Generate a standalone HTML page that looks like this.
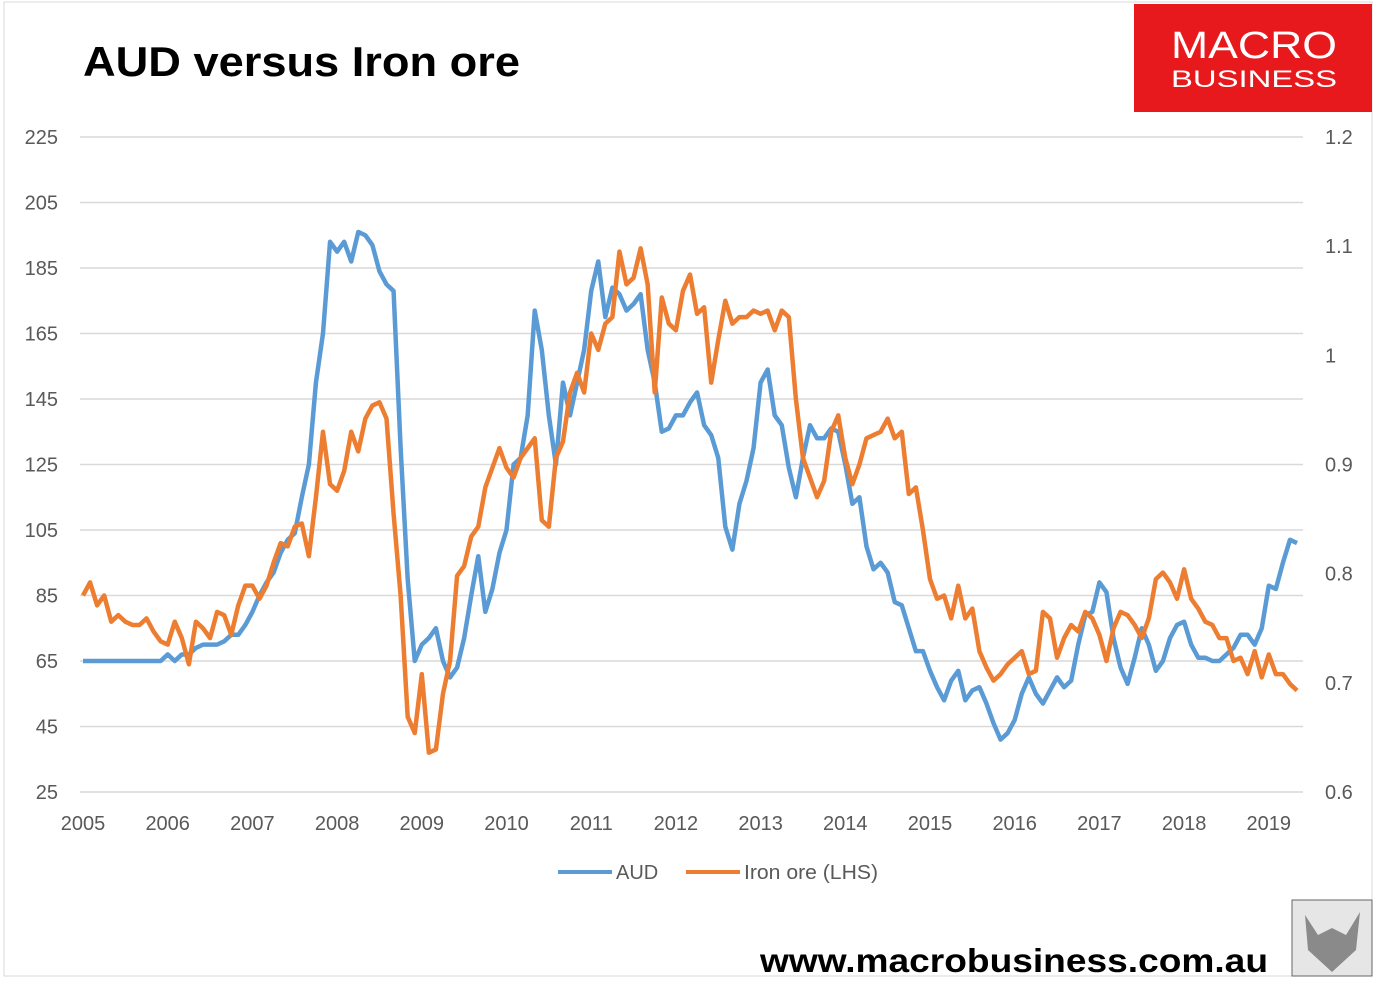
<!DOCTYPE html>
<html><head><meta charset="utf-8"><style>
body{margin:0;background:#fff;width:1374px;height:981px;overflow:hidden;font-family:"Liberation Sans",sans-serif}
</style></head><body>
<svg width="1374" height="981" viewBox="0 0 1374 981">
<rect x="4" y="2" width="1368" height="974" fill="none" stroke="#d9d9d9"/>
<text x="83" y="76" font-size="42" font-weight="bold" fill="#000" textLength="437" lengthAdjust="spacingAndGlyphs">AUD versus Iron ore</text>
<g>
<rect x="1134" y="4" width="238" height="108" fill="#e8191c"/>
<text x="1254" y="58" font-size="38" fill="#fff" text-anchor="middle" textLength="166" lengthAdjust="spacingAndGlyphs">MACRO</text>
<text x="1254" y="87" font-size="24" fill="#fff" text-anchor="middle" textLength="166" lengthAdjust="spacingAndGlyphs">BUSINESS</text>
</g>
<g id="grid"></g><g id="ylabels"></g><g id="xlabels"></g><g id="lines"></g>
<g>
<line x1="558" y1="872" x2="612" y2="872" stroke="#5b9bd5" stroke-width="4"/>
<text x="616" y="879" font-size="20" fill="#595959">AUD</text>
<line x1="686" y1="872" x2="740" y2="872" stroke="#ed7d31" stroke-width="4"/>
<text x="744" y="879" font-size="20" fill="#595959" textLength="134" lengthAdjust="spacingAndGlyphs">Iron ore (LHS)</text>
</g>
<text x="760" y="972" font-size="33" font-weight="bold" fill="#000" textLength="508" lengthAdjust="spacingAndGlyphs">www.macrobusiness.com.au</text>
<g>
<rect x="1292" y="900" width="80" height="76" fill="#e6e6e6" stroke="#666"/>
<path d="M1305 915 L1318 935 L1332 928 L1346 935 L1360 912 L1356 950 L1332 972 L1308 950 Z" fill="#8a8a8a"/>
</g>
</svg>
<script>
const years=["2005","2006","2007","2008","2009","2010","2011","2012","2013","2014","2015","2016","2017","2018","2019"];
const leftTicks=[25,45,65,85,105,125,145,165,185,205,225];
const rightTicks=["0.6","0.7","0.8","0.9","1","1.1","1.2"];
const ironOre=[85,89,82,85,77,79,77,76,76,78,74,71,
70,77,72,64,77,75,72,80,79,73,82,88,
88,84,88,95,101,100,106,107,97,115,135,119,
117,123,135,129,139,143,144,139,110,85,48,43,
61,37,38,55,65,91,94,103,106,118,124,130,
124,121,127,130,133,108,106,127,132,147,153,147,
165,160,168,170,190,180,182,191,180,147,176,168,
166,178,183,171,173,150,163,175,168,170,170,172,
171,172,166,172,170,145,127,121,115,120,135,140,
127,119,125,133,134,135,139,133,135,116,118,105,
90,84,85,78,88,78,81,68,63,59,61,64,
66,68,61,62,80,78,66,72,76,74,80,78,
73,65,75,80,79,76,72,78,90,92,89,84,
93,84,81,77,76,72,72,65,66,61,68,60,
67,61,61,58,56];
const aud=[0.72,0.72,0.72,0.72,0.72,0.72,0.72,0.72,0.72,0.72,0.72,0.72,
0.726,0.72,0.726,0.726,0.732,0.735,0.735,0.735,0.738,0.744,0.744,0.753,
0.765,0.78,0.792,0.801,0.819,0.831,0.837,0.87,0.9,0.975,1.02,1.104,
1.095,1.104,1.086,1.113,1.11,1.101,1.077,1.065,1.059,0.915,0.795,0.72,
0.735,0.741,0.75,0.72,0.705,0.714,0.741,0.78,0.816,0.765,0.786,0.819,
0.84,0.9,0.906,0.945,1.041,1.005,0.945,0.9,0.975,0.945,0.975,1.005,
1.059,1.086,1.035,1.062,1.056,1.041,1.047,1.056,1.005,0.975,0.93,0.933,
0.945,0.945,0.957,0.966,0.936,0.927,0.906,0.843,0.822,0.864,0.885,0.915,
0.975,0.987,0.945,0.936,0.897,0.87,0.906,0.936,0.924,0.924,0.933,0.93,
0.9,0.864,0.87,0.825,0.804,0.81,0.801,0.774,0.771,0.75,0.729,0.729,
0.711,0.696,0.684,0.702,0.711,0.684,0.693,0.696,0.681,0.663,0.648,0.654,
0.666,0.69,0.705,0.69,0.681,0.693,0.705,0.696,0.702,0.735,0.762,0.765,
0.792,0.783,0.741,0.714,0.699,0.723,0.75,0.735,0.711,0.72,0.741,0.753,
0.756,0.735,0.723,0.723,0.72,0.72,0.726,0.732,0.744,0.744,0.735,0.75,
0.789,0.786,0.81,0.831,0.828];
const NS="http://www.w3.org/2000/svg";
const X0=83, PX_YEAR=84.7, TOP=137, BOT=792;
const xs=i=>X0+i*PX_YEAR/12;
const yL=v=>BOT-(v-25)/200*(BOT-TOP);
const yR=v=>BOT-(v-0.6)/0.6*(BOT-TOP);
function mk(tag,attrs,parent){const e=document.createElementNS(NS,tag);for(const k in attrs)e.setAttribute(k,attrs[k]);parent.appendChild(e);return e;}
const grid=document.getElementById('grid'),yl=document.getElementById('ylabels'),xl=document.getElementById('xlabels'),ln=document.getElementById('lines');
leftTicks.forEach(t=>{
  const g=mk('line',{x1:80,x2:1303,y1:yL(t),y2:yL(t),stroke:'#d9d9d9','stroke-width':1.5},grid);
  
  
  const tx=mk('text',{x:58,y:yL(t)+7,'font-size':20,fill:'#595959','text-anchor':'end'},yl);
  tx.textContent=t;
  
  
});
rightTicks.forEach(t=>{
  const tx=mk('text',{x:1325,y:yR(+t)+7,'font-size':20,fill:'#595959'},yl);
  tx.textContent=t;
  
  
});
years.forEach((y,i)=>{
  const tx=mk('text',{x:X0+i*PX_YEAR,y:830,'font-size':20,fill:'#595959','text-anchor':'middle'},xl);
  tx.textContent=y;
  
  
});
const pa=mk('polyline',{points:aud.map((v,i)=>xs(i)+','+yR(v)).join(' '),fill:'none',stroke:'#5b9bd5','stroke-width':4.5,'stroke-linejoin':'round'},ln);


const pi=mk('polyline',{points:ironOre.map((v,i)=>xs(i)+','+yL(v)).join(' '),fill:'none',stroke:'#ed7d31','stroke-width':4.5,'stroke-linejoin':'round'},ln);


</script>
</body></html>
